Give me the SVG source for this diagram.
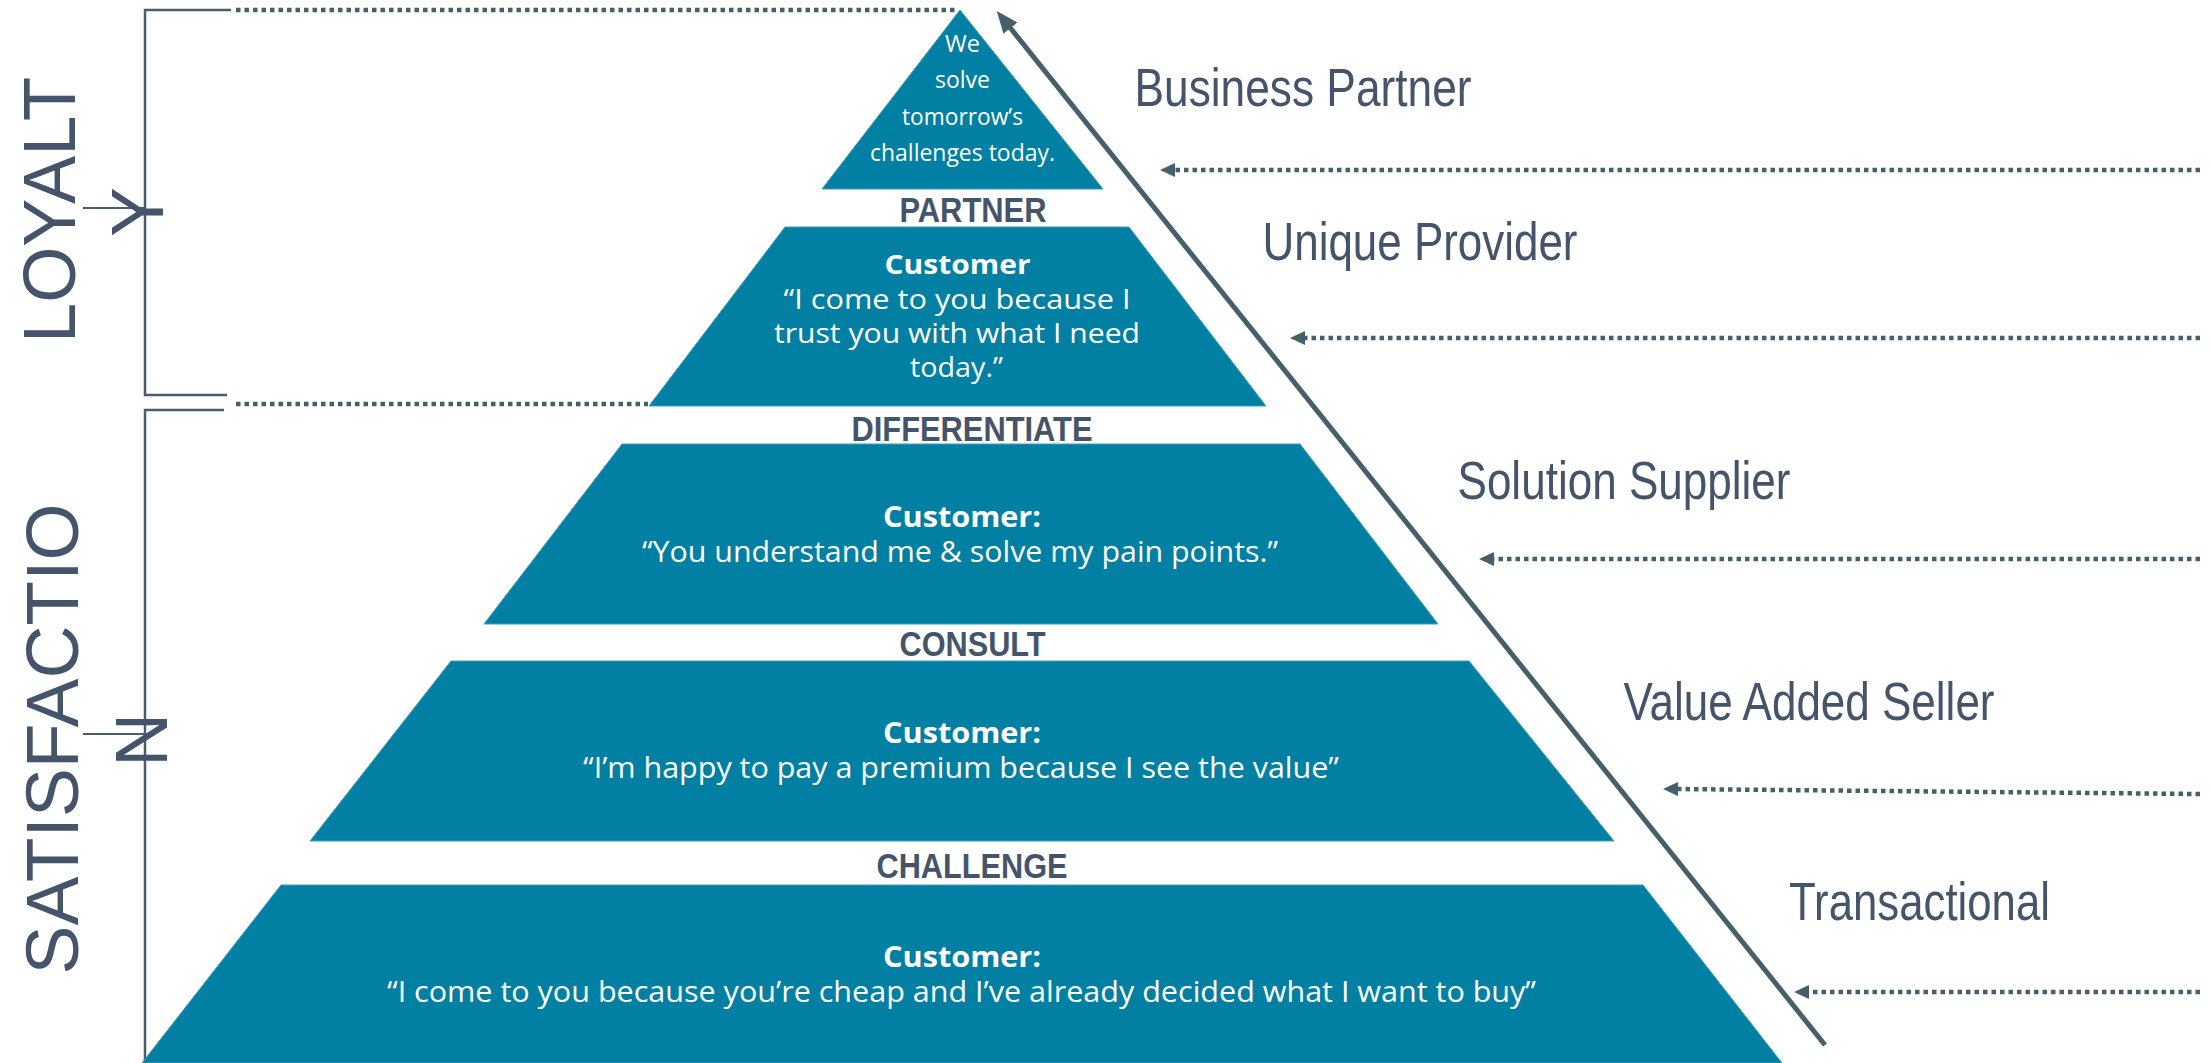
<svg xmlns="http://www.w3.org/2000/svg" width="2211" height="1063" viewBox="0 0 2211 1063">
  <style>
    .tier { fill: #0180a3; stroke: #3f9cbd; stroke-width: 1; }
    .bracket { fill: none; stroke: #4a5d6b; stroke-width: 2.5; }
    .tick { fill: none; stroke: #4a5d6b; stroke-width: 2; }
    .dots { fill: none; stroke: #46606b; stroke-width: 4.5; stroke-dasharray: 4.5 4; }
    .rise { fill: none; stroke: #46606b; stroke-width: 5; }
    .side { font-family: "Liberation Sans", Arial, sans-serif; font-size: 75px; fill: #44546a; }
    .level { font-family: "Liberation Sans", Arial, sans-serif; font-size: 53px; fill: #44546a; }
    .stage { font-family: "Liberation Sans", Arial, sans-serif; font-size: 35px; font-weight: 700; fill: #44546a; }
    .apex { font-family: "Open Sans", "Noto Sans", sans-serif; font-size: 23px; fill: #ffffff; }
    .who { font-family: "Open Sans", "Noto Sans", sans-serif; font-size: 29px; font-weight: 700; fill: #ffffff; }
    .quote { font-family: "Open Sans", "Noto Sans", sans-serif; font-size: 29px; fill: #ffffff; }
    .tight { font-size: 27px; }
  </style>
  <defs>
    <marker id="dotHead" viewBox="0 0 15 14" refX="3" refY="7" markerWidth="15" markerHeight="14" markerUnits="userSpaceOnUse" orient="auto">
      <path d="M0,0 L15,7 L0,14 z" fill="#46606b"/>
    </marker>
    <marker id="riseHead" viewBox="0 0 22 18" refX="4" refY="9" markerWidth="22" markerHeight="18" markerUnits="userSpaceOnUse" orient="auto">
      <path d="M0,0 L22,9 L0,18 z" fill="#46606b"/>
    </marker>
  </defs>

  <rect width="2211" height="1063" fill="#ffffff"/>

  <!-- side brackets with their captions -->
  <g id="loyalty">
    <path class="bracket" d="M231,10 H145 V395 H227"/>
    <path class="tick" d="M83,208 H145"/>
    <text class="side" transform="translate(75,210) rotate(-90)" text-anchor="middle" textLength="266" lengthAdjust="spacingAndGlyphs">LOYALT</text>
    <text class="side" transform="translate(163,212) rotate(-90)" text-anchor="middle">Y</text>
  </g>
  <g id="satisfaction">
    <path class="bracket" d="M224,410 H145 V1063"/>
    <path class="tick" d="M83,734 H145"/>
    <text class="side" transform="translate(78,739) rotate(-90)" text-anchor="middle" textLength="471" lengthAdjust="spacingAndGlyphs">SATISFACTIO</text>
    <text class="side" transform="translate(167,740) rotate(-90)" text-anchor="middle">N</text>
  </g>

  <!-- pyramid tiers -->
  <g id="tier-partner">
    <polygon class="tier" points="960,10 1103,189 822,189"/>
    <text class="apex" x="962.5" y="52" text-anchor="middle" textLength="35" lengthAdjust="spacingAndGlyphs">We</text>
    <text class="apex" x="962.5" y="88" text-anchor="middle" textLength="55" lengthAdjust="spacingAndGlyphs">solve</text>
    <text class="apex" x="962.5" y="125" text-anchor="middle" textLength="121" lengthAdjust="spacingAndGlyphs">tomorrow’s</text>
    <text class="apex" x="962.5" y="161" text-anchor="middle" textLength="185" lengthAdjust="spacingAndGlyphs">challenges today.</text>
    <text class="stage" x="973" y="222" text-anchor="middle" textLength="147" lengthAdjust="spacingAndGlyphs">PARTNER</text>
  </g>
  <g id="tier-differentiate">
    <polygon class="tier" points="785,227 1129,227 1266,406 649,406"/>
    <text class="who tight" x="957.5" y="274" text-anchor="middle" textLength="146" lengthAdjust="spacingAndGlyphs">Customer</text>
    <text class="quote tight" x="957" y="309" text-anchor="middle" textLength="347" lengthAdjust="spacingAndGlyphs">“I come to you because I</text>
    <text class="quote tight" x="957" y="343" text-anchor="middle" textLength="366" lengthAdjust="spacingAndGlyphs">trust you with what I need</text>
    <text class="quote tight" x="956.5" y="377" text-anchor="middle" textLength="93" lengthAdjust="spacingAndGlyphs">today.”</text>
    <text class="stage" x="972" y="441" text-anchor="middle" textLength="241" lengthAdjust="spacingAndGlyphs">DIFFERENTIATE</text>
  </g>
  <g id="tier-consult">
    <polygon class="tier" points="622,444 1300,444 1438,624 484,624"/>
    <text class="who" x="962" y="527" text-anchor="middle" textLength="158" lengthAdjust="spacingAndGlyphs">Customer:</text>
    <text class="quote" x="960" y="562" text-anchor="middle" textLength="636" lengthAdjust="spacingAndGlyphs">“You understand me &amp; solve my pain points.”</text>
    <text class="stage" x="972.5" y="656" text-anchor="middle" textLength="146" lengthAdjust="spacingAndGlyphs">CONSULT</text>
  </g>
  <g id="tier-challenge">
    <polygon class="tier" points="451,661 1469,661 1614,841 310,841"/>
    <text class="who" x="962" y="743" text-anchor="middle" textLength="158" lengthAdjust="spacingAndGlyphs">Customer:</text>
    <text class="quote" x="961" y="778" text-anchor="middle" textLength="756" lengthAdjust="spacingAndGlyphs">“I’m happy to pay a premium because I see the value”</text>
    <text class="stage" x="972" y="878" text-anchor="middle" textLength="191" lengthAdjust="spacingAndGlyphs">CHALLENGE</text>
  </g>
  <g id="tier-base">
    <polygon class="tier" points="281,885 1643,885 1782,1063 142,1063"/>
    <text class="who" x="962" y="967" text-anchor="middle" textLength="158" lengthAdjust="spacingAndGlyphs">Customer:</text>
    <text class="quote" x="961.5" y="1002" text-anchor="middle" textLength="1149" lengthAdjust="spacingAndGlyphs">“I come to you because you’re cheap and I’ve already decided what I want to buy”</text>
  </g>

  <!-- relationship levels on the right -->
  <g id="level-business-partner">
    <text class="level" x="1303" y="106" text-anchor="middle" textLength="337" lengthAdjust="spacingAndGlyphs">Business Partner</text>
  </g>
  <g id="level-unique-provider">
    <text class="level" x="1420" y="260" text-anchor="middle" textLength="315" lengthAdjust="spacingAndGlyphs">Unique Provider</text>
  </g>
  <g id="level-solution-supplier">
    <text class="level" x="1624" y="499" text-anchor="middle" textLength="333" lengthAdjust="spacingAndGlyphs">Solution Supplier</text>
  </g>
  <g id="level-value-added-seller">
    <text class="level" x="1809" y="720" text-anchor="middle" textLength="371" lengthAdjust="spacingAndGlyphs">Value Added Seller</text>
  </g>
  <g id="level-transactional">
    <text class="level" x="1919.5" y="920" text-anchor="middle" textLength="261" lengthAdjust="spacingAndGlyphs">Transactional</text>
  </g>

  <!-- connectors -->
  <g id="connectors">
    <path class="dots" d="M236,10 H958"/>
    <path class="dots" d="M236,404 H648"/>
    <path class="rise" d="M1825,1045 L1008,25" marker-end="url(#riseHead)"/>
    <path class="dots" d="M2200,170 H1172" marker-end="url(#dotHead)"/>
    <path class="dots" d="M2200,338 H1302" marker-end="url(#dotHead)"/>
    <path class="dots" d="M2200,559 H1491" marker-end="url(#dotHead)"/>
    <path class="dots" d="M2200,794 L1675,789" marker-end="url(#dotHead)"/>
    <path class="dots" d="M2200,992 H1806" marker-end="url(#dotHead)"/>
  </g>
</svg>
